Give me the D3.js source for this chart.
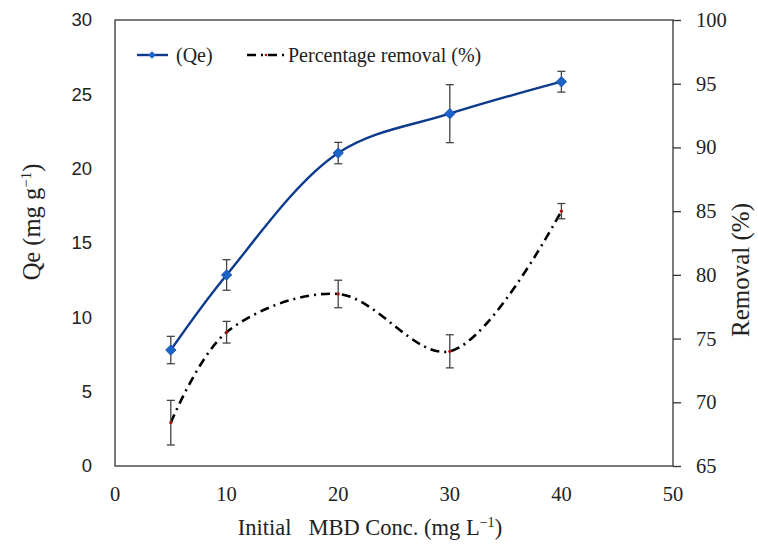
<!DOCTYPE html>
<meta charset="utf-8">
<style>
body { margin: 0; background: #fff; }
svg text { fill: #222; }
.serif { font-family: "Liberation Serif", "DejaVu Serif", serif; }
.sans { font-family: "Liberation Sans", Arial, sans-serif; }
</style>
<svg width="758" height="546"></svg>
<script src="https://cdnjs.cloudflare.com/ajax/libs/d3/7.8.5/d3.min.js"></script>
<script>

// data
var conc = [5, 10, 20, 30, 40];
var qe = [7.8, 12.85, 21.05, 23.7, 25.85];
var qeErr = [0.92, 1.03, 0.72, 1.95, 0.7];
var removal = [68.4, 75.5, 78.5, 74.0, 85.0];
var removalErr = [1.75, 0.85, 1.08, 1.3, 0.6];
var xTicks = [0, 10, 20, 30, 40, 50];
var yLeftTicks = [0, 5, 10, 15, 20, 25, 30];
var yRightTicks = [65, 70, 75, 80, 85, 90, 95, 100];

var svg = d3.select("svg");
var mLeft = 115, mRight = 673, mTop = 20, mBottom = 466;

var x = d3.scaleLinear().domain([0, 50]).range([mLeft, mRight]);
var yL = d3.scaleLinear().domain([0, 30]).range([mBottom, mTop]);
var yR = d3.scaleLinear().domain([65, 100]).range([mBottom, mTop]);

// frame
svg.append("rect")
  .attr("x", mLeft).attr("y", mTop)
  .attr("width", mRight - mLeft).attr("height", mBottom - mTop)
  .attr("fill", "none").attr("stroke", "#333").attr("stroke-width", 1.3);

// left axis labels (no tick marks)
svg.append("g").selectAll("text")
  .data(yLeftTicks).enter().append("text")
  .attr("class", "sans")
  .attr("x", 92).attr("y", function(d) { return yL(d); })
  .attr("dy", "0.35em").attr("text-anchor", "end")
  .attr("font-size", 18.5)
  .text(function(d) { return d; });

// right axis with outward ticks
var rAxis = svg.append("g")
  .attr("transform", "translate(" + mRight + ",0)")
  .call(d3.axisRight(yR).tickValues(yRightTicks).tickSize(8).tickPadding(15));
rAxis.select(".domain").remove();
rAxis.selectAll("line").attr("stroke", "#333").attr("stroke-width", 1.3);
rAxis.selectAll("text")
  .attr("class", "serif").attr("font-size", 20.5).attr("fill", "#222");

// bottom axis labels
svg.append("g").selectAll("text")
  .data(xTicks).enter().append("text")
  .attr("class", "serif")
  .attr("x", function(d) { return x(d); }).attr("y", 501)
  .attr("text-anchor", "middle")
  .attr("font-size", 20.5)
  .text(function(d) { return d; });

// axis titles
var xt = svg.append("text").attr("class", "serif")
  .attr("x", 370).attr("y", 535).attr("text-anchor", "middle")
  .attr("font-size", 22.5).attr("xml:space", "preserve");
xt.append("tspan").text("Initial   MBD Conc. (mg L");
xt.append("tspan").attr("font-size", 14).attr("dy", -8).text("\u22121");
xt.append("tspan").attr("dy", 8).text(")");

var lt = svg.append("text").attr("class", "serif")
  .attr("transform", "translate(40,222) rotate(-90)")
  .attr("text-anchor", "middle").attr("font-size", 24.5);
lt.append("tspan").text("Qe (mg g");
lt.append("tspan").attr("font-size", 15).attr("dy", -9).text("\u22121");
lt.append("tspan").attr("dy", 9).text(")");

svg.append("text").attr("class", "serif")
  .attr("transform", "translate(749,270) rotate(-90)")
  .attr("text-anchor", "middle").attr("font-size", 25)
  .text("Removal (%)");

// lines
var qeLine = d3.line()
  .x(function(d, i) { return x(conc[i]); })
  .y(function(d) { return yL(d); })
  .curve(d3.curveCatmullRom.alpha(0.5));
var remLine = d3.line()
  .x(function(d, i) { return x(conc[i]); })
  .y(function(d) { return yR(d); })
  .curve(d3.curveCatmullRom.alpha(0.5));

svg.append("path").attr("d", remLine(removal))
  .attr("fill", "none").attr("stroke", "#000").attr("stroke-width", 2.6)
  .attr("stroke-dasharray", "9,5,2,5");

svg.append("path").attr("d", qeLine(qe))
  .attr("fill", "none").attr("stroke", "#0c3a8c").attr("stroke-width", 2.4);

// error bars
function errBars(vals, errs, y) {
  var g = svg.append("g").attr("stroke", "#444").attr("stroke-width", 1.3);
  vals.forEach(function(v, i) {
    var cx = x(conc[i]), y1 = y(v + errs[i]), y2 = y(v - errs[i]);
    g.append("line").attr("x1", cx).attr("x2", cx).attr("y1", y1).attr("y2", y2);
    g.append("line").attr("x1", cx - 4).attr("x2", cx + 4).attr("y1", y1).attr("y2", y1);
    g.append("line").attr("x1", cx - 4).attr("x2", cx + 4).attr("y1", y2).attr("y2", y2);
  });
}
errBars(qe, qeErr, yL);
errBars(removal, removalErr, yR);

// markers
var diamond = d3.symbol().type(d3.symbolDiamond2).size(70);
svg.append("g").selectAll("path")
  .data(qe).enter().append("path")
  .attr("d", diamond)
  .attr("transform", function(d, i) { return "translate(" + x(conc[i]) + "," + yL(d) + ")"; })
  .attr("fill", "#1c64c8").attr("stroke", "#1c4fa8").attr("stroke-width", 0.8);

svg.append("g").selectAll("circle")
  .data(removal).enter().append("circle")
  .attr("cx", function(d, i) { return x(conc[i]); })
  .attr("cy", function(d) { return yR(d); })
  .attr("r", 1.6).attr("fill", "#b01010");

// legend
var lg = svg.append("g");
lg.append("line").attr("x1", 137).attr("x2", 168).attr("y1", 55).attr("y2", 55)
  .attr("stroke", "#0c3a8c").attr("stroke-width", 2.4);
lg.append("path").attr("d", d3.symbol().type(d3.symbolDiamond2).size(36))
  .attr("transform", "translate(152,55)").attr("fill", "#1c64c8");
lg.append("text").attr("class", "serif").attr("x", 176).attr("y", 62)
  .attr("font-size", 20).text("(Qe)");
lg.append("line").attr("x1", 247).attr("x2", 286).attr("y1", 55).attr("y2", 55)
  .attr("stroke", "#000").attr("stroke-width", 2.6)
  .attr("stroke-dasharray", "9,5,2,5");
lg.append("circle").attr("cx", 266).attr("cy", 55).attr("r", 1.3).attr("fill", "#b01010");
lg.append("text").attr("class", "serif").attr("x", 288).attr("y", 62)
  .attr("font-size", 20).text("Percentage removal (%)");

</script>
